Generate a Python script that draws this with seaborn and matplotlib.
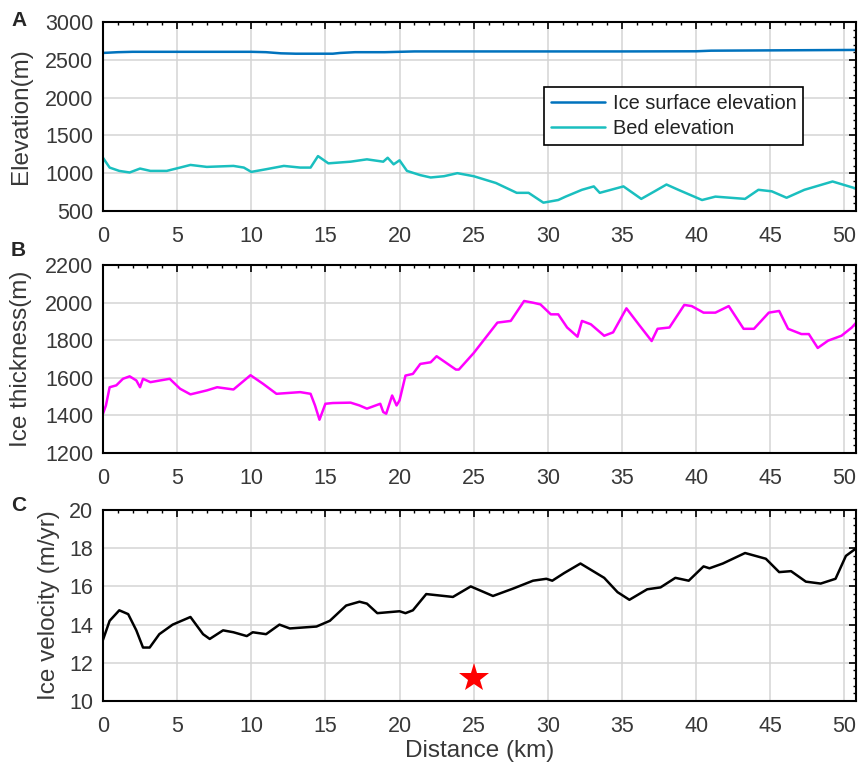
import numpy as np
import pandas as pd
import matplotlib
matplotlib.use("Agg")
import matplotlib.pyplot as plt
import seaborn as sns
from matplotlib.ticker import MultipleLocator

# --- data ---
surf_km = [0, 0.5, 1, 2, 4, 6, 8, 10, 11, 12, 13, 14, 15.5, 16, 17, 18, 19, 20, 21,
           25, 30, 35, 40, 41, 43, 45, 47, 49, 51]
surf_m = [2590, 2595, 2600, 2605, 2605, 2605, 2605, 2605, 2600, 2585, 2580, 2580, 2580,
          2590, 2600, 2600, 2600, 2605, 2610, 2610, 2610, 2610, 2612, 2620, 2622, 2624,
          2626, 2628, 2630]

bed_km = [0, 0.45, 1.1, 1.8, 2.5, 3.2, 4.3, 5.2, 5.9, 7.0, 8.8, 9.5, 10, 11, 12.2, 13.3,
          14, 14.5, 15.2, 16.7, 17.8, 18.9, 19.2, 19.6, 20, 20.5, 21.4, 22.1, 23.0, 23.9,
          25, 26.5, 27.9, 28.7, 29.7, 30.7, 31.2, 32.3, 33.1, 33.5, 35.1, 36.3, 37.2, 38.0,
          38.8, 40.4, 41.3, 43.3, 44.2, 45.1, 46.1, 47.3, 49.2, 50.9]
bed_m = [1204, 1074, 1030, 1009, 1061, 1030, 1030, 1074, 1109, 1083, 1096, 1074, 1017,
         1052, 1096, 1074, 1074, 1226, 1130, 1152, 1183, 1152, 1204, 1117, 1170, 1030,
         974, 943, 960, 1000, 960, 870, 740, 740, 610, 645, 690, 780, 825, 740, 825, 660,
         760, 850, 780, 645, 690, 660, 780, 760, 675, 780, 890, 790]

thk_km = [0, 0.2, 0.45, 0.9, 1.35, 1.8, 2.25, 2.5, 2.7, 3.2, 4.5, 5.2, 5.9, 7.0, 7.7,
          8.8, 9.95, 10.8, 11.7, 13.3, 14.0, 14.3, 14.6, 15.0, 15.5, 16.7, 17.3, 17.8,
          18.7, 18.9, 19.1, 19.5, 19.8, 20.0, 20.4, 20.9, 21.4, 22.1, 22.5, 23.8, 24.0,
          25.0, 26.6, 27.5, 28.4, 29.0, 29.5, 30.2, 30.7, 31.3, 32.0, 32.3, 32.9, 33.8,
          34.4, 35.3, 36.2, 37.0, 37.4, 38.2, 39.2, 39.7, 40.5, 41.3, 42.2, 43.2, 43.9,
          44.9, 45.6, 46.2, 47.1, 47.6, 48.2, 48.9, 49.8, 50.5, 51.0]
thk_m = [1409, 1453, 1550, 1560, 1595, 1608, 1586, 1550, 1595, 1577, 1595, 1542, 1512,
         1533, 1550, 1538, 1614, 1568, 1515, 1524, 1515, 1453, 1377, 1462, 1466, 1468,
         1453, 1436, 1462, 1418, 1409, 1506, 1453, 1480, 1612, 1621, 1674, 1683, 1715,
         1644, 1644, 1732, 1894, 1903, 2009, 2000, 1991, 1938, 1938, 1868, 1819, 1903,
         1885, 1824, 1842, 1970, 1877, 1796, 1861, 1868, 1988, 1982, 1947, 1947, 1982,
         1861, 1861, 1947, 1956, 1861, 1833, 1833, 1759, 1798, 1824, 1868, 1912]

vel_km = [0, 0.45, 1.1, 1.7, 2.25, 2.7, 3.15, 3.8, 4.7, 5.0, 5.9, 6.75, 7.2, 8.1, 8.8,
          9.7, 10.1, 11.0, 11.9, 12.6, 14.4, 15.3, 16.4, 17.3, 17.8, 18.5, 20.0, 20.4,
          20.9, 21.8, 23.6, 24.8, 26.3, 27.7, 29.0, 29.9, 30.3, 31.1, 32.2, 33.8, 34.7,
          35.5, 36.7, 37.6, 38.6, 39.5, 40.5, 40.9, 41.8, 43.3, 44.7, 45.6, 46.4, 47.4,
          48.4, 49.4, 50.1, 50.8]
vel_myr = [13.2, 14.2, 14.75, 14.55, 13.7, 12.8, 12.8, 13.5, 14.0, 14.1, 14.4, 13.5,
           13.25, 13.7, 13.6, 13.4, 13.6, 13.5, 14.0, 13.8, 13.9, 14.2, 15.0, 15.2, 15.1,
           14.6, 14.7, 14.6, 14.75, 15.6, 15.45, 16.0, 15.5, 15.9, 16.3, 16.4, 16.3, 16.7,
           17.2, 16.45, 15.7, 15.3, 15.85, 15.95, 16.45, 16.3, 17.05, 16.95, 17.2, 17.75,
           17.45, 16.75, 16.8, 16.25, 16.15, 16.4, 17.6, 18.0]

star_km = [25]
star_v = [11.2]

sns.set_theme(style="whitegrid")
plt.rcParams['font.family'] = ['Liberation Sans', 'DejaVu Sans']

fig = plt.figure(figsize=(8.58, 7.7), dpi=100)
W = 0.878
axA = fig.add_axes([0.120, 0.726, W, 0.2455])
axB = fig.add_axes([0.120, 0.4117, W, 0.244])
axC = fig.add_axes([0.120, 0.0896, W, 0.248])

elev = pd.concat([
    pd.DataFrame({'km': surf_km, 'm': surf_m, 'kind': 'Ice surface elevation'}),
    pd.DataFrame({'km': bed_km, 'm': bed_m, 'kind': 'Bed elevation'}),
])
sns.lineplot(data=elev, x='km', y='m', hue='kind', ax=axA, lw=1.8,
             palette={'Ice surface elevation': '#0072BD', 'Bed elevation': '#1ABFBF'})
sns.lineplot(x=thk_km, y=thk_m, ax=axB, color='#FF00FF', lw=1.8)
sns.lineplot(x=vel_km, y=vel_myr, ax=axC, color='black', lw=1.8)
axC.plot(star_km, star_v, marker='*', color='red', ms=22, ls='none', mew=0)

for ax, lo, hi, step, minor in [(axA, 500, 3000, 500, 100), (axB, 1200, 2200, 200, 40),
                                (axC, 10, 20, 2, 0.4)]:
    ax.set_xlim(0, 50.8)
    ax.set_ylim(lo, hi)
    ax.xaxis.set_major_locator(MultipleLocator(5))
    ax.xaxis.set_minor_locator(MultipleLocator(1))
    ax.yaxis.set_major_locator(MultipleLocator(step))
    ax.yaxis.set_minor_locator(MultipleLocator(minor))
    ax.grid(True, which='major', color='#d4d4d4', lw=1.1)
    ax.grid(False, which='minor')
    ax.tick_params(which='both', direction='in', top=True, right=True, color='black',
                   labelsize=15.5, labelcolor='#383838')
    ax.tick_params(which='major', length=5, width=1.2, pad=7)
    ax.tick_params(axis='x', which='major', pad=11)
    ax.tick_params(which='minor', length=2.5, width=1.0)
    for s in ax.spines.values():
        s.set_color('black')
        s.set_linewidth(1.5)
    ax.set_xlabel('')

axA.set_ylabel('Elevation(m)', fontsize=17.5, color='#383838')
axB.set_ylabel('Ice thickness(m)', fontsize=17.5, color='#383838')
axC.set_ylabel('Ice velocity (m/yr)', fontsize=17.5, color='#383838')
axA.yaxis.set_label_coords(-0.094, 0.5)
axB.yaxis.set_label_coords(-0.094, 0.5)
axC.yaxis.set_label_coords(-0.057, 0.5)
axC.set_xlabel('Distance (km)', fontsize=17.5, color='#383838', labelpad=2)

leg = axA.legend(loc='upper left', bbox_to_anchor=(0.585, 0.655), fontsize=14.4,
                 frameon=True, fancybox=False, handlelength=2.7, borderpad=0.35,
                 labelspacing=0.3, handletextpad=0.4, borderaxespad=0)
leg.get_frame().set_edgecolor('black')
leg.get_frame().set_linewidth(1.2)
leg.get_frame().set_alpha(1)
for t in leg.get_texts():
    t.set_color('#222222')

for lbl, y in [('A', 21), ('B', 251), ('C', 505)]:
    fig.text(11 / 858, 1 - y / 770, lbl, fontsize=15, fontweight='bold', va='center', ha='left')

fig.savefig('out.png', dpi=100)
